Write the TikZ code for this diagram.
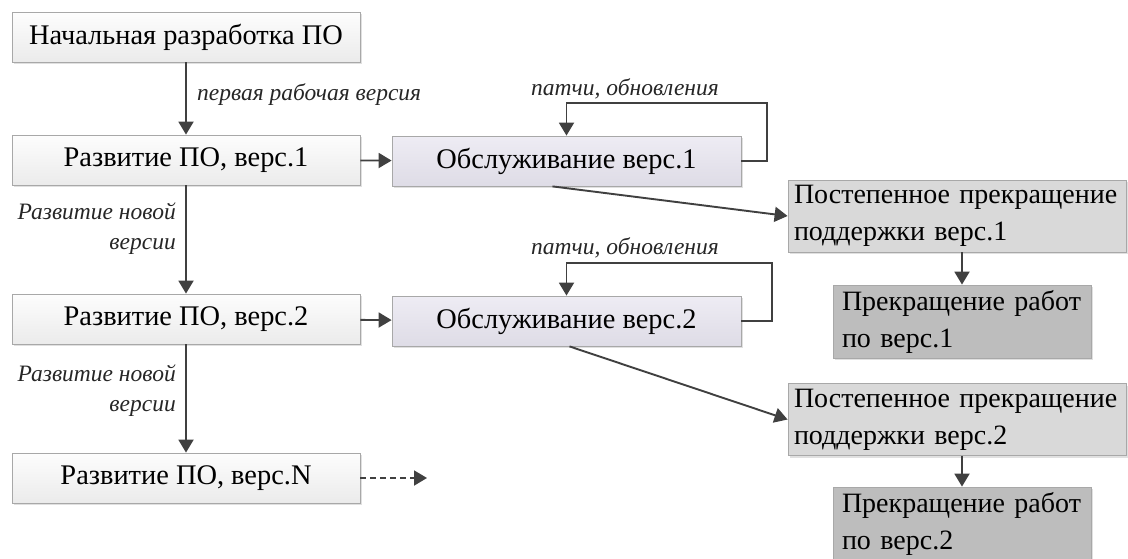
\documentclass[tikz,border=0pt]{standalone}
\usepackage{fontspec}
\setmainfont{Liberation Serif}
\usetikzlibrary{arrows.meta,shadows}
\definecolor{arrc}{HTML}{404040}
\definecolor{brd}{HTML}{A8A8A8}
\definecolor{devtop}{HTML}{FDFDFD}
\definecolor{devbot}{HTML}{EBEBEB}
\definecolor{suptop}{HTML}{EEECF4}
\definecolor{supbot}{HTML}{DEDCE6}
\definecolor{phase}{HTML}{D9D9D9}
\definecolor{endc}{HTML}{BDBDBD}
\tikzset{
  base/.style={draw=brd, line width=0.8pt, rectangle, inner sep=0pt,
    drop shadow={shadow xshift=2pt, shadow yshift=-2pt, fill=black, opacity=0.12}},
  devbox/.style={base, top color=devtop, bottom color=devbot,
    minimum width=348pt, minimum height=50pt, font=\fontsize{28.4}{33}\selectfont},
  supbox/.style={base, top color=suptop, bottom color=supbot,
    minimum width=349pt, minimum height=50pt, font=\fontsize{28.4}{33}\selectfont},
  phasebox/.style={base, fill=phase, minimum width=338pt, minimum height=72pt,
    text width=326pt, align=left, font=\fontsize{28}{37}\selectfont},
  endbox/.style={base, fill=endc, minimum width=258pt, minimum height=73pt,
    text width=240pt, align=left, font=\fontsize{28}{37}\selectfont},
  arr/.style={draw=arrc, line width=1.9pt, -{Triangle[length=13pt,width=15pt]}},
  lbl/.style={font=\fontsize{23.5}{30}\selectfont\itshape, text=black!85, inner sep=0pt}
}
\begin{document}
\begin{tikzpicture}[x=1pt,y=-1pt]
\useasboundingbox (0,0) rectangle (1128,558);
\node[devbox] (A) at (186,37) {Начальная разработка ПО};
\node[devbox] (B1) at (186,160) {Развитие ПО, верс.1};
\node[devbox] (B2) at (186,319) {Развитие ПО, верс.2};
\node[devbox] (BN) at (186,478) {Развитие ПО, верс.N};
\node[supbox] (C1) at (566.5,161) {Обслуживание верс.1};
\node[supbox] (C2) at (566.5,321) {Обслуживание верс.2};
\node[phasebox] (D1) at (957,216) {Постепенное прекращение\\поддержки верс.1};
\node[phasebox] (D2) at (957,419.5) {Постепенное прекращение\\поддержки верс.2};
\node[endbox] (E1) at (962,321.5) {Прекращение работ\\по верс.1};
\node[endbox] (E2) at (962,523.5) {Прекращение работ\\по верс.2};

\node[lbl, anchor=west] (l1) at (197,95) {первая рабочая версия};
\node[lbl, anchor=east, align=right] (l2) at (176,229) {Развитие новой\\версии};
\node[lbl, anchor=east, align=right] (l3) at (176,391) {Развитие новой\\версии};
\node[lbl] (p1) at (625,89) {патчи, обновления};
\node[lbl] (p2) at (625,248) {патчи, обновления};

\draw[arr] (A) -- (B1);
\draw[arr] (B1) -- (B2);
\draw[arr] (B2) -- (BN);
\draw[arr] (B1) -- (C1);
\draw[arr] (B2) -- (C2);
\draw[arr] (C1.east) -- ++(26,0) -- ++(0,-58) -| (C1.north);
\draw[arr] (C2.east) -- ++(31,0) -- ++(0,-58) -| (C2.north);
\draw[arr] ([xshift=-14pt]C1.south) -- (D1.west);
\draw[arr] ([xshift=3pt]C2.south) -- (D2.west);
\draw[arr] (E1.north |- D1.south) -- (E1.north);
\draw[arr] (E2.north |- D2.south) -- (E2.north);
\coordinate (nx) at (427,478);
\draw[arr, dashed, dash pattern=on 6pt off 4pt] (BN) -- (nx);
\end{tikzpicture}
\end{document}
